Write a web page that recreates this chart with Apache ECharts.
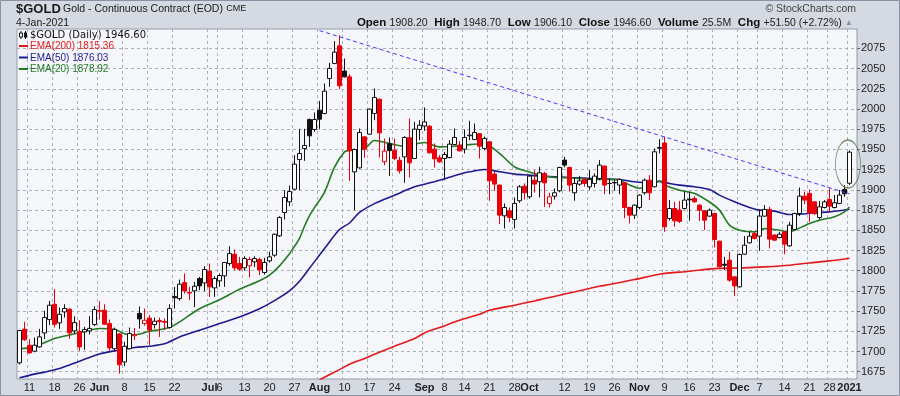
<!DOCTYPE html>
<html><head><meta charset="utf-8">
<script src="https://cdn.jsdelivr.net/npm/echarts@6/dist/echarts.min.js"></script>
<style>html,body{margin:0;padding:0;background:#d4d9e2;}#c{width:900px;height:396px;}</style>
</head><body><div id="c"></div>
<script>
// ---------- DATA ----------
const firstDay = '2020-05-07';
const lastDay = '2021-01-04';
const holidays = ['2020-05-25','2020-07-03','2020-09-07','2020-11-26','2020-12-25','2021-01-01'];

const opens = [
1686,1727.6,1707.8,1700.4,1705.7,1723,1739.5,1758.5,1735.4,1749,
1752.3,1725.5,1724.7,1724.3,1725.5,1733.4,1750.7,1751.1,1734.6,1703.5,
1721.8,1687.1,1703.5,1719.5,1747.2,1734.6,1741.3,1733.4,1738.3,1737,
1729.6,1768,1765.5,1785.3,1773,1775,1790.3,1784.9,1799.4,1778.7,
1787.4,1793.6,1808.8,1820.4,1808.8,1803.5,1806,1810.9,1813.8,1797.7,
1812.1,1819.2,1843.1,1872,1885.2,1900.8,1937.5,1951.2,1987,1974.7,
1998.6,1994.5,2037.8,2056.4,2078.2,2046.9,2039.8,1922.3,1927.2,1965.6,
1968.9,1994.5,2012.2,1934.7,1957,1949,1936.7,1940.8,1964.4,1938.8,
1974.7,1979,1978.8,1950.3,1939.6,1938.8,1940,1956.1,1955.3,1950.3,
1967,1962.3,1969.5,1951.2,1959.5,1919.5,1905.9,1867.9,1874.1,1863.4,
1886.5,1904.6,1891.4,1912,1910,1920.3,1883.2,1892.2,1898.8,1936.8,
1927.7,1896.4,1907.1,1912.9,1903.8,1907.9,1914.1,1929.4,1908,1909,
1905.9,1908.7,1878.2,1868.7,1878.2,1896.4,1912,1903.8,1952.4,1958,
1864.6,1876.9,1875,1876.9,1888.5,1889.3,1881.1,1874.1,1867.5,1870.8,
1836.5,1808,1813,1792.4,1780,1820.4,1834.5,1845.9,1842.7,1867.5,
1875.7,1844,1841,1848.1,1830.7,1851,1870.8,1892.2,1895.5,1885.2,
1865.8,1878.2,1888.1,1878.2,1883.2,1900.5,1908.2];
const highs = [
1727,1736.7,1715.2,1717.3,1728,1750.3,1762.6,1777.1,1754.4,1758.5,
1753.5,1743.7,1738.7,1730.5,1743.7,1756,1762.2,1758.5,1739.5,1729.6,
1722.5,1712,1729.6,1729,1755.6,1753.2,1745,1742,1742,1741,
1758.5,1779.9,1789,1796.5,1780,1786.1,1792.3,1805.5,1808.8,1793.1,
1796.4,1810.9,1830.3,1826.2,1817.1,1817.9,1817.1,1817.9,1816.2,1815.9,
1823.3,1846,1867.4,1899.6,1905.4,1942.9,1975.5,1975.5,1988.3,1995.7,
2010.1,2031.6,2057.2,2084,2091.4,2062.5,2043.1,1951.2,1975.9,1966,
2000.7,2025.4,2013,1963.5,1964.8,1963.5,1940.8,1966.4,1988.3,1984.2,
1986.2,2001.9,1980,1957.3,1942.9,1947,1961.5,1975.9,1960.2,1974.7,
1985.4,1982.1,1970,1966,1960,1922.4,1906.5,1883.2,1878.2,1890.6,
1905.9,1907.9,1918.2,1924.4,1928.5,1922.4,1896.4,1901.7,1928.5,1940.9,
1928.5,1915.3,1917,1915.3,1924.4,1920.3,1936.8,1930,1914.1,1912,
1914,1909,1879,1882,1894.5,1914,1918.2,1951.2,1962.8,1966,
1887.3,1885.2,1886.4,1897.6,1897.6,1892.2,1882.3,1874.9,1877,1871.6,
1837,1817.1,1823.3,1793.2,1821.3,1842.7,1848.1,1848.1,1875.7,1881.1,
1879,1845.2,1848.1,1848.5,1860.5,1871.6,1902.9,1897.6,1900.5,1886,
1886.4,1887.3,1901.7,1893.5,1899.6,1905.8,1948.7];
const lows = [
1684,1713,1697.5,1699.1,1704.9,1715.6,1732.5,1729.6,1728,1742,
1715.6,1722.2,1700.8,1702,1721,1731.3,1739.5,1733,1700.8,1701.6,
1672.7,1682,1702.5,1714,1728.4,1732,1707.8,1728.4,1718,1726.5,
1728.4,1753.1,1763,1771.7,1763.5,1755,1775.8,1774.6,1767.6,1767.6,
1780,1780,1806,1800.6,1799.8,1800,1791.5,1804.7,1794.4,1795.2,
1810,1817.1,1841.8,1863.3,1880,1899.6,1899.6,1935.9,1953.2,1971.8,
1975.5,1993.6,2027.5,2055.5,2024.6,2039,1911.1,1874.8,1926.4,1939.6,
1968,1986.2,1940,1930.5,1917.3,1936.7,1920.2,1908.7,1915.3,1938,
1961.5,1973,1945,1927.6,1933.4,1911.9,1939,1955.3,1947.5,1945,
1961.5,1961.5,1938.8,1949,1886.5,1898.8,1857.6,1852.2,1860,1852.2,
1884,1888,1889,1896.4,1890.6,1879,1878.2,1888,1897,1928,
1898,1886.5,1905,1904,1900,1903,1912,1894.7,1894.7,1898.8,
1894.7,1865,1858.4,1864,1876,1894,1887.3,1903,1945,1848.1,
1862,1854.3,1859,1875.7,1861.7,1884,1861.7,1850.2,1866.6,1828.7,
1803.9,1800.6,1786.2,1768.5,1779.2,1819.6,1833.6,1838.6,1824.6,1866.6,
1827.5,1837,1839.8,1820.4,1829.5,1850.2,1867.5,1882.3,1860.4,1869,
1863.3,1877,1871.6,1877,1882.3,1891.4,1906.1];
const closes = [
1726,1714.5,1698.3,1707.8,1718.1,1742,1757.3,1733.8,1746.1,1753.2,
1723,1735.8,1705.7,1727.1,1728.6,1751.9,1749.9,1733.8,1704.5,1727.3,
1683.5,1706.5,1722.2,1721,1740.3,1738.7,1726.7,1737.5,1737,1736.2,
1753.1,1766.5,1783.3,1775,1772.3,1780.8,1781.2,1801.4,1780,1790.3,
1794,1810.1,1821.2,1803.5,1801.8,1815,1813.8,1815,1801,1810.1,
1817.1,1845.1,1865.8,1890.5,1897.9,1931.8,1945,1954.9,1966.8,1987,
1987.4,2022.1,2050.2,2070.4,2028.7,2039.8,1948.3,1949.9,1971,1950.3,
1999.8,2014.3,1970.5,1947.9,1948.5,1938.8,1923.5,1964.8,1933.4,1975.1,
1980,1984,1945.8,1938.4,1934.7,1943.7,1956.5,1964.8,1948.3,1964.8,
1967.7,1971,1954,1963.6,1911.2,1907.1,1868.7,1878.2,1865.8,1883.2,
1903.8,1896.4,1917,1907.1,1921.1,1908.7,1891.4,1896.4,1927.7,1930.6,
1905.9,1907.9,1911.2,1907.9,1912.9,1917,1930.6,1905.9,1907.9,1908.7,
1912.9,1878.2,1868.7,1881.1,1893.5,1912,1896.4,1947.1,1951.6,1854.3,
1876.9,1861.7,1861,1887.3,1887.6,1885.2,1874.9,1862.5,1874.9,1838.6,
1804.8,1806.8,1788.3,1781.2,1820,1831.6,1842.7,1839.8,1867.5,1875.7,
1839,1837.8,1845.2,1832.8,1856.3,1870.8,1892.2,1887.3,1871.6,1870.5,
1879,1885.2,1879.8,1884,1893.5,1895.1,1946.6];

const ema20 = [
['2020-05-07',1703.5],['2020-05-12',1706],['2020-05-18',1716],['2020-05-21',1720.5],['2020-05-26',1723.5],
['2020-06-01',1728.4],['2020-06-04',1727.4],['2020-06-08',1722],['2020-06-10',1720.5],['2020-06-15',1725],
['2020-06-17',1727],['2020-06-19',1729.6],['2020-06-23',1736.6],['2020-06-29',1753],['2020-07-06',1764],
['2020-07-10',1777],['2020-07-16',1787.5],['2020-07-20',1794.5],['2020-07-22',1806],['2020-07-24',1821],
['2020-07-27',1830],['2020-07-28',1840],['2020-07-29',1855],['2020-07-30',1868],['2020-07-31',1878],
['2020-08-04',1897],['2020-08-06',1928],['2020-08-10',1947],['2020-08-11',1949],['2020-08-14',1951],
['2020-08-18',1961],['2020-08-21',1957.3],['2020-08-26',1954],['2020-09-01',1958.6],['2020-09-04',1953.2],
['2020-09-10',1954],['2020-09-15',1956],['2020-09-18',1957],['2020-09-23',1945],['2020-09-28',1928.5],
['2020-10-01',1922],['2020-10-05',1918.2],['2020-10-08',1915.3],['2020-10-13',1914.9],['2020-10-15',1914],
['2020-10-20',1913],['2020-10-23',1912.9],['2020-10-27',1912],['2020-10-29',1906],['2020-11-02',1902],
['2020-11-04',1904],['2020-11-06',1911],['2020-11-09',1906],['2020-11-12',1899.6],['2020-11-17',1895.5],
['2020-11-20',1885],['2020-11-24',1874.9],['2020-11-27',1856.3],['2020-12-01',1850],['2020-12-04',1848],
['2020-12-08',1852],['2020-12-11',1850],['2020-12-15',1848],['2020-12-16',1850],['2020-12-21',1858.4],
['2020-12-23',1862.5],['2020-12-29',1866.6],['2020-12-31',1872.8],['2021-01-04',1878.9]];

const ema50 = [
['2020-05-07',1667.5],['2020-05-12',1672],['2020-05-14',1674.5],['2020-05-19',1679],['2020-05-26',1688],
['2020-06-01',1697],['2020-06-04',1700.8],['2020-06-10',1705],['2020-06-15',1706.5],['2020-06-18',1709.5],
['2020-06-23',1718],['2020-06-29',1726.3],['2020-07-06',1734.6],['2020-07-10',1742.8],['2020-07-16',1753],
['2020-07-21',1763],['2020-07-24',1775],['2020-07-28',1787],['2020-07-30',1803],['2020-08-04',1827.4],
['2020-08-07',1850.9],['2020-08-11',1859],['2020-08-13',1872],['2020-08-18',1883],['2020-08-24',1893.4],
['2020-08-28',1903.7],['2020-09-01',1907],['2020-09-04',1912],['2020-09-11',1919.4],['2020-09-15',1922.3],
['2020-09-18',1925.2],['2020-09-23',1922.4],['2020-09-28',1919.5],['2020-10-01',1918.2],['2020-10-05',1917],
['2020-10-08',1916.2],['2020-10-13',1915.3],['2020-10-20',1914.1],['2020-10-27',1912.9],['2020-10-30',1910],
['2020-11-04',1908.7],['2020-11-06',1910.5],['2020-11-10',1907.9],['2020-11-12',1905.8],['2020-11-17',1903.8],
['2020-11-20',1900.5],['2020-11-24',1893.5],['2020-11-30',1885.2],['2020-12-03',1878.2],['2020-12-07',1874.9],
['2020-12-10',1873.7],['2020-12-15',1869.5],['2020-12-17',1869.9],['2020-12-22',1871.6],['2020-12-28',1872.8],
['2020-12-30',1874.1],['2021-01-04',1876]];

const ema200 = [
['2020-08-03',1665],['2020-08-07',1677.6],['2020-08-11',1684.2],['2020-08-14',1691.3],['2020-08-18',1696.6],
['2020-08-24',1706.5],['2020-08-28',1716],['2020-09-01',1723],['2020-09-04',1729.6],['2020-09-11',1738.7],
['2020-09-17',1746.1],['2020-09-21',1751.1],['2020-09-28',1757.3],['2020-10-02',1762.6],['2020-10-06',1765.5],
['2020-10-09',1769.6],['2020-10-13',1772.5],['2020-10-19',1777.9],['2020-10-21',1780.8],['2020-10-23',1782.8],
['2020-10-30',1789],['2020-11-06',1795.6],['2020-11-16',1799.3],['2020-11-23',1802.6],['2020-12-02',1803.5],
['2020-12-08',1804.7],['2020-12-15',1806.8],['2020-12-21',1809.6],['2020-12-28',1812.1],['2021-01-04',1815.4]];

const trendLine = [['2020-08-03',2097],['2021-01-04',1895]];
const highlight = ['2021-01-04',1932];

const xTickLabels = [
['2020-05-11','11'],['2020-05-18','18'],['2020-05-26','26'],['2020-06-01','Jun'],['2020-06-08','8'],
['2020-06-15','15'],['2020-06-22','22'],['2020-07-01','Jul'],['2020-07-06','6'],['2020-07-13','13'],
['2020-07-20','20'],['2020-07-27','27'],['2020-08-03','Aug'],['2020-08-10','10'],['2020-08-17','17'],
['2020-08-24','24'],['2020-09-01','Sep'],['2020-09-08','8'],['2020-09-14','14'],['2020-09-21','21'],
['2020-09-28','28'],['2020-10-01','Oct'],['2020-10-12','12'],['2020-10-19','19'],['2020-10-26','26'],
['2020-11-02','Nov'],['2020-11-09','9'],['2020-11-16','16'],['2020-11-23','23'],['2020-12-01','Dec'],
['2020-12-07','7'],['2020-12-14','14'],['2020-12-21','21'],['2020-12-28','28'],['2021-01-04','2021']];
const monthLabels = ['Jun','Jul','Aug','Sep','Oct','Nov','Dec','2021'];
const yTicks = [1675,1700,1725,1750,1775,1800,1825,1850,1875,1900,1925,1950,1975,2000,2025,2050,2075];

// ---------- BUILD ----------
function tradingDays(a, b, hol) {
  const out = [];
  const d = new Date(a + 'T00:00:00Z'), end = new Date(b + 'T00:00:00Z');
  while (d <= end) {
    const wd = d.getUTCDay(), s = d.toISOString().slice(0, 10);
    if (wd !== 0 && wd !== 6 && hol.indexOf(s) < 0) out.push(s);
    d.setUTCDate(d.getUTCDate() + 1);
  }
  return out;
}
const dates = tradingDays(firstDay, lastDay, holidays);
const categories = dates.concat(['pad']);
const labelMap = new Map(xTickLabels);

const RED = '#e8000b', BLK = '#111111', HOLLOW = '#ffffff';
const candleData = dates.map((d, i) => {
  const o = opens[i], c = closes[i];
  const col = (i > 0 && c < closes[i - 1]) ? RED : BLK;
  const fill = c < o ? col : HOLLOW;
  return { value: [o, c, lows[i], highs[i]],
    itemStyle: { color: fill, color0: fill, borderColor: col, borderColor0: col, borderWidth: 1 } };
});

const chart = echarts.init(document.getElementById('c'), null, { renderer: 'canvas' });
const FF = '"Liberation Sans", Arial, sans-serif';

chart.setOption({
  animation: false,
  backgroundColor: '#d4d9e2',
  grid: { left: 17, right: 43, top: 29, bottom: 17, show: true, backgroundColor: '#f5f6fa', borderColor: '#959cab', borderWidth: 1 },
  xAxis: {
    type: 'category', data: categories, boundaryGap: true,
    axisLine: { show: false }, axisTick: { show: false },
    splitLine: { show: true, interval: (i, v) => labelMap.has(v), lineStyle: { color: '#abb0bb', type: [3, 3], width: 1 } },
    axisLabel: {
      interval: (i, v) => labelMap.has(v),
      formatter: v => { const t = labelMap.get(v) || ''; return monthLabels.indexOf(t) >= 0 ? '{m|' + t + '}' : t; },
      color: '#222', fontSize: 11, fontFamily: FF, margin: 3,
      rich: { m: { fontWeight: 'bold', fontSize: 11, fontFamily: FF, color: '#222' } }
    }
  },
  yAxis: {
    type: 'value', position: 'right', min: 1666, max: 2099,
    axisLine: { show: false },
    axisTick: { show: true, customValues: yTicks, length: 3, lineStyle: { color: '#666' } },
    axisLabel: { customValues: yTicks, formatter: v => String(v), color: '#222', fontSize: 11, fontFamily: FF, margin: 4 },
    splitLine: { show: true, lineStyle: { color: '#abb0bb', type: [3, 3], width: 1 } }
  },
  series: [
    { name: 'EMA(200)', type: 'line', data: ema200, showSymbol: false, symbol: 'none', smooth: 0.3, z: 3,
      lineStyle: { color: '#e31a1c', width: 1.6 }, clip: true },
    { name: 'EMA(50)', type: 'line', data: ema50, showSymbol: false, symbol: 'none', smooth: 0.3, z: 3,
      lineStyle: { color: '#1c1c8e', width: 1.6 }, clip: true },
    { name: 'EMA(20)', type: 'line', data: ema20, showSymbol: false, symbol: 'none', smooth: 0.3, z: 3,
      lineStyle: { color: '#237a23', width: 1.6 }, clip: true,
      markLine: { silent: true, z: 6, symbol: ['none', 'none'], label: { show: false }, animation: false,
        data: [[{ coord: trendLine[0], lineStyle: { color: '#3d3dff', type: [4, 3], width: 1 } }, { coord: trendLine[1] }]] } },
    { name: '$GOLD', type: 'candlestick', data: candleData, barWidth: 4, z: 4, clip: true },
    { name: 'highlight', type: 'scatter', data: [highlight], symbol: 'circle', symbolSize: [25, 48], symbolOffset: [-1.5, 0], z: 7, silent: true, clip: false,
      itemStyle: { color: 'rgba(0,0,0,0)', borderColor: '#4d6e3a', borderWidth: 1 } }
  ],
  graphic: { elements: [
    { type: 'rect', silent: true, z: 100, shape: { x: 0.5, y: 0.5, width: 899, height: 395 }, style: { fill: 'none', stroke: '#8a91a0', lineWidth: 1 } },
    { type: 'text', z: 100, style: { text: '$GOLD', x: 16, y: 9, fontSize: 13, fontWeight: 'bold', fontFamily: FF, fill: '#1a1a1a', verticalAlign: 'middle' } },
    { type: 'text', z: 100, style: {
      text: '{a|Gold - Continuous Contract (EOD)} {c|CME}', x: 63, y: 9, verticalAlign: 'middle',
      rich: { a: { fontSize: 10.5, fontFamily: FF, fill: '#1a1a1a' }, c: { fontSize: 9, fontFamily: FF, fill: '#1a1a1a' } } } },
    { type: 'text', z: 100, style: { text: '4-Jan-2021', x: 16, y: 23, fontSize: 10.5, fontFamily: FF, fill: '#1a1a1a', verticalAlign: 'middle' } },
    { type: 'text', z: 100, style: { text: '\u00a9 StockCharts.com', x: 856, y: 9.5, fontSize: 10.5, fontFamily: FF, fill: '#444', align: 'right', verticalAlign: 'middle' } },
    { type: 'text', z: 100, style: {
      text: '{b|Open} {v|1908.20}  {b|High} {v|1948.70}  {b|Low} {v|1906.10}  {b|Close} {v|1946.60}  {b|Volume} {v|25.5M}  {b|Chg} {v|+51.50 (+2.72%)} {t|\u25B2}',
      x: 853, y: 23, align: 'right', verticalAlign: 'middle',
      rich: { b: { fontSize: 11.5, fontWeight: 'bold', fontFamily: FF, fill: '#111' },
              v: { fontSize: 10.5, fontFamily: FF, fill: '#222' },
              t: { fontSize: 8, fontFamily: FF, fill: '#8a8f99' } } } },
    { type: 'rect', z: 100, shape: { x: 20.5, y: 31, width: 1, height: 8 }, style: { fill: '#111' } },
    { type: 'rect', z: 100, shape: { x: 19.5, y: 33, width: 3, height: 4 }, style: { fill: '#fff', stroke: '#111', lineWidth: 1 } },
    { type: 'rect', z: 100, shape: { x: 25, y: 31, width: 1, height: 8 }, style: { fill: '#111' } },
    { type: 'rect', z: 100, shape: { x: 24, y: 32.5, width: 3, height: 5 }, style: { fill: '#111' } },
    { type: 'text', z: 100, style: { text: '$GOLD (Daily) 1946.60', x: 30, y: 35, fontSize: 10, fontFamily: '"DejaVu Sans", sans-serif', fill: '#111', verticalAlign: 'middle' } },
    { type: 'rect', z: 100, shape: { x: 19, y: 45, width: 9, height: 2 }, style: { fill: '#e31a1c' } },
    { type: 'text', z: 100, style: { text: 'EMA(200) 1815.36', x: 30, y: 46.5, fontSize: 10, fontFamily: FF, fill: '#e31a1c', verticalAlign: 'middle' } },
    { type: 'rect', z: 100, shape: { x: 19, y: 56.5, width: 9, height: 2 }, style: { fill: '#1c1c8e' } },
    { type: 'text', z: 100, style: { text: 'EMA(50) 1876.03', x: 30, y: 58, fontSize: 10, fontFamily: FF, fill: '#1c1c8e', verticalAlign: 'middle' } },
    { type: 'rect', z: 100, shape: { x: 19, y: 68, width: 9, height: 2 }, style: { fill: '#237a23' } },
    { type: 'text', z: 100, style: { text: 'EMA(20) 1878.92', x: 30, y: 69.5, fontSize: 10, fontFamily: FF, fill: '#237a23', verticalAlign: 'middle' } }
  ] }
});
</script>
</body></html>
